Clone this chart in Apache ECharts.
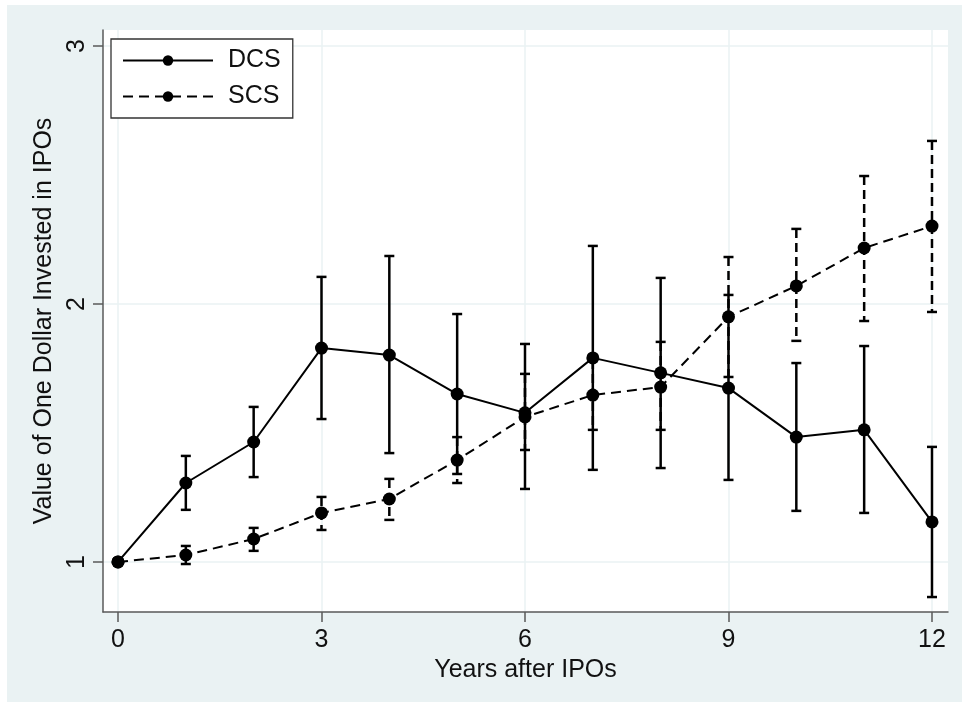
<!DOCTYPE html>
<html>
<head>
<meta charset="utf-8">
<script src="https://cdn.jsdelivr.net/npm/echarts@6/dist/echarts.min.js"></script>
<style>
html,body{margin:0;padding:0;background:#fff;}
#chart{width:962px;height:702px;}
</style>
</head>
<body>
<div id="chart"></div>
<script>
// ---- data ----
const years = [0, 1, 2, 3, 4, 5, 6, 7, 8, 9, 10, 11, 12];
const dcsValue = [1.000, 1.306, 1.465, 1.829, 1.802, 1.651, 1.578, 1.791, 1.733, 1.674, 1.484, 1.512, 1.155];
const dcsLow   = [1.000, 1.202, 1.329, 1.554, 1.422, 1.341, 1.283, 1.357, 1.364, 1.318, 1.198, 1.190, 0.864];
const dcsHigh  = [1.000, 1.411, 1.601, 2.105, 2.186, 1.961, 1.845, 2.225, 2.101, 2.035, 1.771, 1.837, 1.446];
const scsValue = [1.000, 1.027, 1.089, 1.190, 1.244, 1.395, 1.562, 1.647, 1.678, 1.950, 2.070, 2.217, 2.302];
const scsLow   = [1.000, 0.992, 1.043, 1.124, 1.163, 1.306, 1.434, 1.512, 1.512, 1.717, 1.857, 1.934, 1.969];
const scsHigh  = [1.000, 1.062, 1.132, 1.252, 1.322, 1.484, 1.729, 1.783, 1.853, 2.182, 2.291, 2.496, 2.632];
const xTicks = [0, 3, 6, 9, 12];
const yTicks = [1, 2, 3];
const seriesNames = ['DCS', 'SCS'];
const xTitle = 'Years after IPOs';
const yTitle = 'Value of One Dollar Invested in IPOs';

const FONT = '"Liberation Sans", Arial, sans-serif';
const FS = 25;
const BG = '#EAF2F3';
const AXIS = '#5a5a5a';

function pairs(vals) { return years.map((x, i) => [x, vals[i]]); }
function bars(lo, hi) {
  return years.map((x, i) => [x, lo[i], hi[i]]).filter(d => d[1] !== d[2]);
}
function makeBarRenderer(dashed) {
  return function (params, api) {
    const x = api.value(0), lo = api.value(1), hi = api.value(2);
    const pt = api.coord([x, hi]);
    const pb = api.coord([x, lo]);
    const w = 5;
    const capStyle = { stroke: '#000', lineWidth: 2.5 };
    return {
      type: 'group',
      children: [
        { type: 'line', shape: { x1: pt[0], y1: pt[1], x2: pb[0], y2: pb[1] },
          style: { stroke: '#000', lineWidth: 2.5, lineDash: dashed ? [9, 5] : null } },
        { type: 'line', shape: { x1: pt[0] - w, y1: pt[1], x2: pt[0] + w, y2: pt[1] }, style: capStyle },
        { type: 'line', shape: { x1: pb[0] - w, y1: pb[1], x2: pb[0] + w, y2: pb[1] }, style: capStyle }
      ]
    };
  };
}

const chart = echarts.init(document.getElementById('chart'), null, { renderer: 'canvas' });
chart.setOption({
  animation: false,
  backgroundColor: '#ffffff',
  textStyle: { fontFamily: FONT },
  graphic: [{
    type: 'rect', z: -10, silent: true,
    shape: { x: 7, y: 5, width: 955, height: 697 },
    style: { fill: BG }
  }, {
    type: 'rect', z: -9, silent: true,
    shape: { x: 103, y: 30, width: 845, height: 582 },
    style: { fill: '#ffffff' }
  }],
  grid: { left: 103, top: 30, right: 14, bottom: 90, containLabel: false },
  legend: {
    left: 111, top: 39,
    orient: 'vertical',
    backgroundColor: '#ffffff',
    borderColor: '#333',
    borderWidth: 1.3,
    borderRadius: 0,
    padding: [9, 12, 9, 11],
    itemWidth: 90,
    itemHeight: 13,
    itemGap: 11,
    textStyle: { fontSize: FS, color: '#111', fontFamily: FONT, lineHeight: 24, padding: [0, 0, 0, 10] },
    data: seriesNames
  },
  xAxis: {
    type: 'value',
    min: -0.221, max: 12.236,
    name: xTitle,
    nameLocation: 'middle',
    nameGap: 39,
    nameTextStyle: { fontSize: FS, color: '#111', fontFamily: FONT, lineHeight: 24 },
    axisLine: { show: true, onZero: false, lineStyle: { color: AXIS, width: 1.5 } },
    axisTick: { show: true, length: 10, customValues: xTicks, lineStyle: { color: AXIS, width: 1.5 } },
    axisLabel: { customValues: xTicks, fontSize: FS, color: '#111', margin: 16, fontFamily: FONT, lineHeight: 24 },
    splitLine: { show: true, lineStyle: { color: BG, width: 1.5 } }
  },
  yAxis: {
    type: 'value',
    min: 0.806, max: 3.062,
    name: yTitle,
    nameLocation: 'middle',
    nameGap: 42,
    nameTextStyle: { fontSize: FS, color: '#111', fontFamily: FONT, lineHeight: 24 },
    axisLine: { show: true, onZero: false, lineStyle: { color: AXIS, width: 1.5 } },
    axisTick: { show: true, length: 10, customValues: yTicks, lineStyle: { color: AXIS, width: 1.5 } },
    axisLabel: { customValues: yTicks, rotate: 90, fontSize: FS, color: '#111', margin: 14, fontFamily: FONT, lineHeight: 24 },
    splitLine: { show: true, lineStyle: { color: BG, width: 1.5 } }
  },
  series: [
    {
      name: 'DCS bars', type: 'custom', z: 2,
      renderItem: makeBarRenderer(false),
      encode: { x: 0, y: [1, 2] },
      data: bars(dcsLow, dcsHigh)
    },
    {
      name: 'SCS bars', type: 'custom', z: 2,
      renderItem: makeBarRenderer(true),
      encode: { x: 0, y: [1, 2] },
      data: bars(scsLow, scsHigh)
    },
    {
      name: seriesNames[0], type: 'line', z: 3,
      data: pairs(dcsValue),
      symbol: 'circle', symbolSize: 13, showSymbol: true,
      itemStyle: { color: '#000' },
      lineStyle: { color: '#000', width: 2 }
    },
    {
      name: seriesNames[1], type: 'line', z: 3,
      data: pairs(scsValue),
      symbol: 'circle', symbolSize: 13, showSymbol: true,
      itemStyle: { color: '#000' },
      lineStyle: { color: '#000', width: 2, type: [10, 6] }
    }
  ]
});
</script>
</body>
</html>
